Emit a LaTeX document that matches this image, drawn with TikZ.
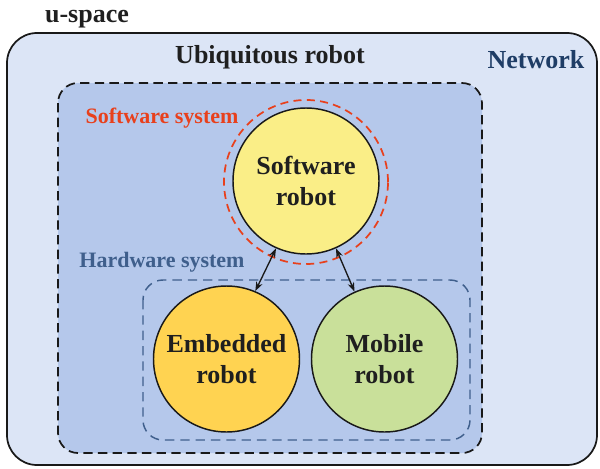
\documentclass[tikz,border=0pt]{standalone}
\usepackage{fontspec}
\setmainfont{Liberation Serif}
\usetikzlibrary{arrows.meta}
\definecolor{outerfill}{HTML}{DCE5F6}
\definecolor{innerfill}{HTML}{B5C8EB}
\definecolor{swred}{HTML}{E8401C}
\definecolor{hwblue}{HTML}{3F5F8C}
\definecolor{netblue}{HTML}{1F3D66}
\definecolor{swfill}{HTML}{FAEE87}
\definecolor{embfill}{HTML}{FFD351}
\definecolor{mobfill}{HTML}{C9E09A}
\tikzset{
  bigtext/.style={font=\fontsize{19.5}{21}\selectfont\bfseries, text=black!88},
  smalltext/.style={font=\fontsize{16.5}{18}\selectfont\bfseries},
  robot/.style={circle, draw=black!90, line width=1.1pt, minimum size=146*0.75pt, inner sep=0pt, align=center, font=\fontsize{19.5}{23}\selectfont\bfseries, text=black!88},
  link/.style={{Stealth[length=7pt,width=5pt]}-{Stealth[length=7pt,width=5pt]}, line width=1pt, black!90}
}
\begin{document}
\begin{tikzpicture}[x=0.75pt,y=-0.75pt]
\useasboundingbox (0,0) rectangle (600,468);
% outer
\draw[fill=outerfill, draw=black!90, line width=1.3pt, rounded corners=22.5pt] (7,33) rectangle (597,465);
\node[bigtext, anchor=base] (uspace) at (87,22) {u-space};
\node[bigtext] (ubi) at (270,57) {Ubiquitous robot};
\node[bigtext, text=netblue] (net) at (536,60) {Network};
% inner dashed
\draw[fill=innerfill, draw=black!90, line width=1.3pt, dash pattern=on 7pt off 4pt, rounded corners=15pt] (58,83) rectangle (482,453);
\node[smalltext, text=swred] (swlabel) at (162,118) {Software system};
\node[smalltext, text=hwblue] (hwlabel) at (162,262) {Hardware system};
% hardware dashed
\draw[draw=hwblue, line width=1.1pt, dash pattern=on 7pt off 4.5pt, rounded corners=15pt] (143,280) rectangle (470,440);
% software system dashed circle
\draw[draw=swred, line width=1.3pt, dash pattern=on 6pt off 4pt] (306,182) circle[radius=82*0.75pt];
% robots
\node[robot, fill=swfill] (sw) at (306,181) {Software\\robot};
\node[robot, fill=embfill] (emb) at (226.5,359) {Embedded\\robot};
\node[robot, fill=mobfill] (mob) at (384.5,359) {Mobile\\robot};
% links
\draw[link] (sw.246) -- (emb.67);
\draw[link] (sw.294) -- (mob.114);
\end{tikzpicture}
\end{document}
